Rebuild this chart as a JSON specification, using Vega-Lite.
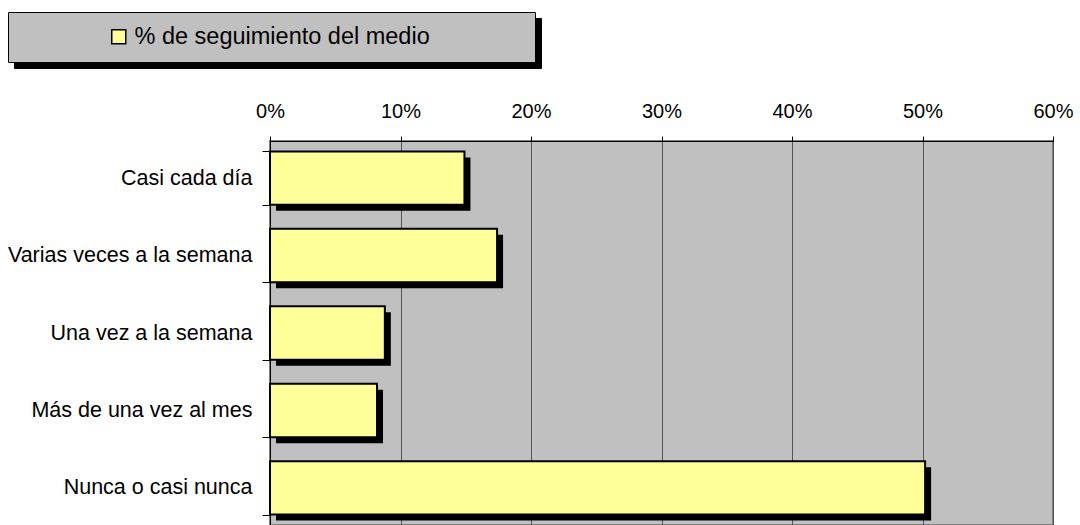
{
  "$schema": "https://vega.github.io/schema/vega-lite/v6.json",
  "autosize": {"type": "none"},
  "width": 783,
  "height": 384,
  "padding": {"left": 270, "top": 141, "right": 27, "bottom": 0},
  "background": "white",
  "config": {
    "font": "Liberation Sans",
    "view": {"fill": "#C0C0C0", "stroke": "#808080", "strokeWidth": 2},
    "axis": {"labelFont": "Liberation Sans", "labelColor": "#000000"}
  },
  "data": {
    "values": [
      {"categoria": "Casi cada día", "pct": 0.149, "serie": "% de seguimiento del medio", "sombra": "% de seguimiento del medio"},
      {"categoria": "Varias veces a la semana", "pct": 0.174, "serie": "% de seguimiento del medio", "sombra": "% de seguimiento del medio"},
      {"categoria": "Una vez a la semana", "pct": 0.088, "serie": "% de seguimiento del medio", "sombra": "% de seguimiento del medio"},
      {"categoria": "Más de una vez al mes", "pct": 0.082, "serie": "% de seguimiento del medio", "sombra": "% de seguimiento del medio"},
      {"categoria": "Nunca o casi nunca", "pct": 0.502, "serie": "% de seguimiento del medio", "sombra": "% de seguimiento del medio"}
    ]
  },
  "encoding": {
    "y": {
      "field": "categoria",
      "type": "nominal",
      "sort": null,
      "scale": {"paddingInner": 0.31, "paddingOuter": 0.135},
      "axis": {
        "title": null,
        "orient": "left",
        "tickBand": "extent",
        "tickSize": 8,
        "tickColor": "#000000",
        "domainColor": "#000000",
        "labelFontSize": 21.5,
        "labelPadding": 10,
        "labelLimit": 400,
        "grid": false
      }
    },
    "x": {
      "field": "pct",
      "type": "quantitative",
      "scale": {"domain": [0, 0.6]},
      "axis": {
        "title": null,
        "orient": "top",
        "format": ".0%",
        "values": [0, 0.1, 0.2, 0.3, 0.4, 0.5, 0.6],
        "tickSize": 5,
        "tickColor": "#000000",
        "domainColor": "#000000",
        "grid": true,
        "gridColor": "#555555",
        "gridWidth": 1,
        "gridOpacity": 1,
        "labelFontSize": 20,
        "labelPadding": 15,
        "labelFlush": false,
        "labelOverlap": false
      }
    }
  },
  "layer": [
    {
      "mark": {"type": "bar", "xOffset": 6, "x2Offset": 6, "yOffset": 6, "y2Offset": 6},
      "encoding": {
        "fill": {
          "field": "sombra",
          "type": "nominal",
          "scale": {"range": ["#000000"]},
          "legend": {
            "title": ".",
            "titleOrient": "right",
            "titleFontSize": 10,
            "titleColor": "#000000",
            "titlePadding": 384,
            "orient": "none",
            "legendX": -256,
            "legendY": -123,
            "fillColor": "#000000",
            "strokeColor": "#000000",
            "padding": 13,
            "symbolType": "square",
            "symbolSize": 196,
            "symbolStrokeColor": "#000000",
            "symbolStrokeWidth": 1.5,
            "symbolOffset": 86,
            "labelOffset": 4,
            "labelFontSize": 23.5,
            "labelFont": "Liberation Sans",
            "labelColor": "#000000",
            "labelLimit": 1000,
            "labelExpr": "''",
            "zindex": 0
          }
        }
      }
    },
    {
      "mark": {"type": "bar", "stroke": "#000000", "strokeWidth": 2},
      "encoding": {
        "color": {
          "field": "serie",
          "type": "nominal",
          "scale": {"range": ["#FFFF99"]},
          "legend": {
            "title": ".",
            "titleOrient": "right",
            "titleFontSize": 10,
            "titleColor": "#C0C0C0",
            "titlePadding": 89,
            "orient": "none",
            "legendX": -262,
            "legendY": -129,
            "fillColor": "#C0C0C0",
            "strokeColor": "#000000",
            "padding": 13,
            "symbolType": "square",
            "symbolSize": 196,
            "symbolStrokeColor": "#000000",
            "symbolStrokeWidth": 1.5,
            "symbolOffset": 86,
            "labelOffset": 4,
            "labelFontSize": 23.5,
            "labelFont": "Liberation Sans",
            "labelColor": "#000000",
            "labelLimit": 1000,
            "zindex": 1
          }
        }
      }
    }
  ]
}
